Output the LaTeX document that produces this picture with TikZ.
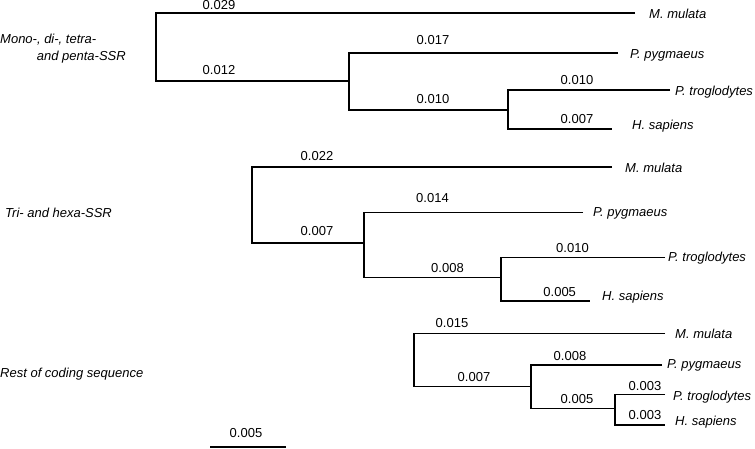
\documentclass[tikz,border=0pt]{standalone}
\usepackage{fontspec}
\setmainfont{Liberation Sans}
\usetikzlibrary{positioning,calc}
\tikzset{
	br/.style={draw=black,line width=1.3pt},
	len/.style={font=\fontsize{13}{15}\selectfont,inner sep=0pt},
	taxon/.style={font=\fontsize{13}{15}\selectfont\itshape,inner sep=0pt,anchor=base west},
	grp/.style={font=\fontsize{13}{15}\selectfont\itshape,inner sep=0pt,anchor=base west},
}

\begin{document}
\begin{tikzpicture}[x=1pt,y=-1pt]
	\useasboundingbox (0,0) rectangle (755,449);
	% Mono-, di-, tetra- and penta-SSR
	\coordinate (A-r) at (156,47);
	\coordinate (A-n1) at (349,81);
	\coordinate (A-n2) at (508,110);
	\coordinate (A-mm) at (635,13);
	\coordinate (A-pp) at (618,53);
	\coordinate (A-pt) at (670,90);
	\coordinate (A-hs) at (612,129);
	\draw[br] (A-mm) -| (A-r) |- (A-n1);
	\draw[br] (A-pp) -| (A-n1) |- (A-n2);
	\draw[br] (A-pt) -| (A-n2) |- (A-hs);
	\node[taxon] (A-mmL) at (649,18.3) {M. mulata};
	\node[taxon] (A-ppL) at (630,58.3) {P. pygmaeus};
	\node[taxon] (A-ptL) at (675,96) {P. troglodytes};
	\node[taxon] (A-hsL) at (632,130) {H. sapiens};
	\foreach \val/\xx/\yy [count=\i] in {0.029/219/5,0.012/219/70,0.017/433/40.5,0.010/433/99,0.010/577/80.5,0.007/577/119.5}
	\node[len] (A-len\i) at (\xx,\yy) {\val};
	\node[grp] (A-grp1) at (0,44) {Mono-, di-, tetra-};
	\node[grp] (A-grp2) at (36.7,61) {and penta-SSR};
	% Tri- and hexa-SSR
	\coordinate (B-r) at (252,206);
	\coordinate (B-n1) at (364,243);
	\coordinate (B-n2) at (501,277.5);
	\coordinate (B-mm) at (612,167);
	\coordinate (B-pp) at (583,212.5);
	\coordinate (B-pt) at (665,257.3);
	\coordinate (B-hs) at (590,301);
	\draw[br] (B-mm) -| (B-r) |- (B-n1);
	\draw[br] (B-pp) -| (B-n1) |- (B-n2);
	\draw[br] (B-pt) -| (B-n2) |- (B-hs);
	\node[taxon] (B-mmL) at (625,172.3) {M. mulata};
	\node[taxon] (B-ppL) at (593,216.7) {P. pygmaeus};
	\node[taxon] (B-ptL) at (668,261.7) {P. troglodytes};
	\node[taxon] (B-hsL) at (602,300.7) {H. sapiens};
	\foreach \val/\xx/\yy [count=\i] in {0.022/317/156,0.007/317/231.3,0.014/432.5/198.5,0.008/447.5/268.5,0.010/572.5/248,0.005/559.7/292.5}
	\node[len] (B-len\i) at (\xx,\yy) {\val};
	\node[grp] (B-grp) at (5,218) {Tri- and hexa-SSR};
	% Rest of coding sequence
	\coordinate (C-r) at (414,360);
	\coordinate (C-n1) at (531,386.7);
	\coordinate (C-n2) at (615,408.3);
	\coordinate (C-mm) at (665,333.3);
	\coordinate (C-pp) at (662,365);
	\coordinate (C-pt) at (665,394.3);
	\coordinate (C-hs) at (665,425);
	\draw[br] (C-mm) -| (C-r) |- (C-n1);
	\draw[br] (C-pp) -| (C-n1) |- (C-n2);
	\draw[br] (C-pt) -| (C-n2) |- (C-hs);
	\node[taxon] (C-mmL) at (675,338) {M. mulata};
	\node[taxon] (C-ppL) at (667,368.3) {P. pygmaeus};
	\node[taxon] (C-ptL) at (673,400) {P. troglodytes};
	\node[taxon] (C-hsL) at (675,425) {H. sapiens};
	\foreach \val/\xx/\yy [count=\i] in {0.015/452/323,0.007/474/377,0.008/570/356,0.005/577/399,0.003/645/386,0.003/645/415}
	\node[len] (C-len\i) at (\xx,\yy) {\val};
	\node[grp] (C-grp) at (0,377) {Rest of coding sequence};
	% scale bar
	\coordinate (sb-l) at (210,447);
	\coordinate (sb-r) at (286,447);
	\draw[br] (sb-l) -- (sb-r);
	\node[len] (sb-lab) at (246,433) {0.005};
\end{tikzpicture}
\end{document}
